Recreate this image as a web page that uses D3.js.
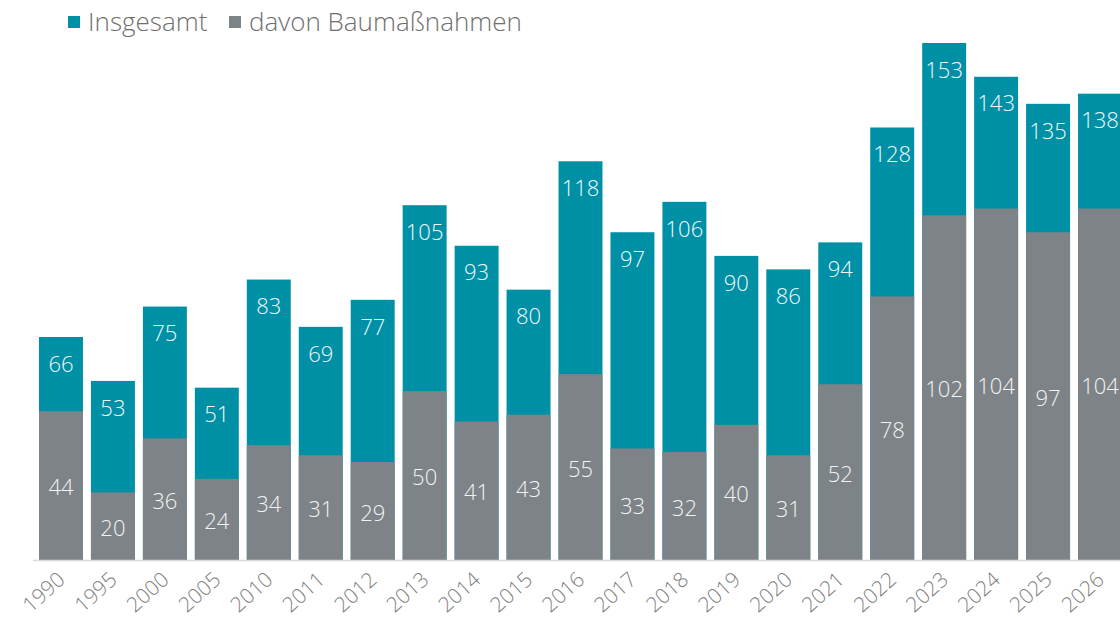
<!DOCTYPE html>
<html>
<head>
<meta charset="utf-8">
<script src="https://cdn.jsdelivr.net/npm/d3@7"></script>
<style>
  body { margin: 0; background: #fff; overflow: hidden; }
  svg { display: block; font-family: "Open Sans", "Noto Sans", sans-serif; }
</style>
</head>
<body>
<div id="chart"></div>
<script>
// chart data
const years = ["1990", "1995", "2000", "2005", "2010", "2011", "2012", "2013", "2014", "2015", "2016",
  "2017", "2018", "2019", "2020", "2021", "2022", "2023", "2024", "2025", "2026"];
const insgesamt = [66, 53, 75, 51, 83, 69, 77, 105, 93, 80, 118, 97, 106, 90, 86, 94, 128, 153, 143, 135, 138];
const baumassnahmen = [44, 20, 36, 24, 34, 31, 29, 50, 41, 43, 55, 33, 32, 40, 31, 52, 78, 102, 104, 97, 104];
const seriesNames = ["Insgesamt", "davon Baumaßnahmen"];

const width = 1120, height = 617;
const teal = "#0090a6", grey = "#7e8387";

const svg = d3.select("#chart").append("svg")
  .attr("width", width)
  .attr("height", height);

const x = d3.scaleBand()
  .domain(years)
  .range([35, 1126])
  .paddingInner(0.154)
  .paddingOuter(0.077);

const y = d3.scaleLinear()
  .domain([0, 153])
  .range([560, 43]);

const rows = years.map((yr, i) => ({ year: yr, total: insgesamt[i], bau: baumassnahmen[i] }));

// total bars (teal)
svg.append("g").selectAll("rect")
  .data(rows)
  .join("rect")
  .attr("x", d => x(d.year))
  .attr("width", x.bandwidth())
  .attr("y", d => y(d.total))
  .attr("height", d => y(0) - y(d.total))
  .attr("fill", teal);

// "davon" bars (grey)
svg.append("g").selectAll("rect")
  .data(rows)
  .join("rect")
  .attr("x", d => x(d.year))
  .attr("width", x.bandwidth())
  .attr("y", d => y(d.bau))
  .attr("height", d => y(0) - y(d.bau))
  .attr("fill", grey);

// value labels
svg.append("g").selectAll("text")
  .data(rows)
  .join("text")
  .attr("x", d => x(d.year) + x.bandwidth() / 2)
  .attr("y", d => y(d.total) + 27)
  .attr("dy", "0.35em")
  .attr("text-anchor", "middle")
  .attr("fill", "#f2f8f9")
  .style("font-size", "22px")
  .style("font-weight", 300)
  .text(d => d.total);

svg.append("g").selectAll("text")
  .data(rows)
  .join("text")
  .attr("x", d => x(d.year) + x.bandwidth() / 2)
  .attr("y", d => (y(d.bau) + y(0)) / 2 + 2)
  .attr("dy", "0.35em")
  .attr("text-anchor", "middle")
  .attr("fill", "#f2f3f3")
  .style("font-size", "22px")
  .style("font-weight", 300)
  .text(d => d.bau);

// baseline
svg.append("line")
  .attr("x1", 33).attr("x2", width)
  .attr("y1", 560.5).attr("y2", 560.5)
  .attr("stroke", "#d9d9d9")
  .attr("stroke-width", 1.5);

// x axis labels, rotated
const xAxis = svg.append("g")
  .attr("transform", "translate(0,560)")
  .call(d3.axisBottom(x).tickSize(0).tickPadding(0));
xAxis.select(".domain").remove();
xAxis.selectAll("text")
  .attr("transform", "translate(-3,12) rotate(-42)")
  .attr("text-anchor", "end")
  .attr("dy", "0.6em")
  .attr("fill", "#808080")
  .style("font-size", "21px")
  .style("font-weight", 300)
  .style("font-family", "'Open Sans', sans-serif");

// legend
const legend = svg.append("g").attr("transform", "translate(68,0)");
const legendX = [0, 161];
seriesNames.forEach((name, i) => {
  const g = legend.append("g").attr("transform", `translate(${legendX[i]},0)`);
  g.append("rect")
    .attr("x", 0).attr("y", 16)
    .attr("width", 12).attr("height", 12)
    .attr("fill", i === 0 ? teal : grey);
  g.append("text")
    .attr("x", 20).attr("y", 31)
    .attr("fill", "#6f6f6f")
    .style("font-size", "26px")
    .style("font-weight", 300)
    .text(name);
});
</script>
</body>
</html>
